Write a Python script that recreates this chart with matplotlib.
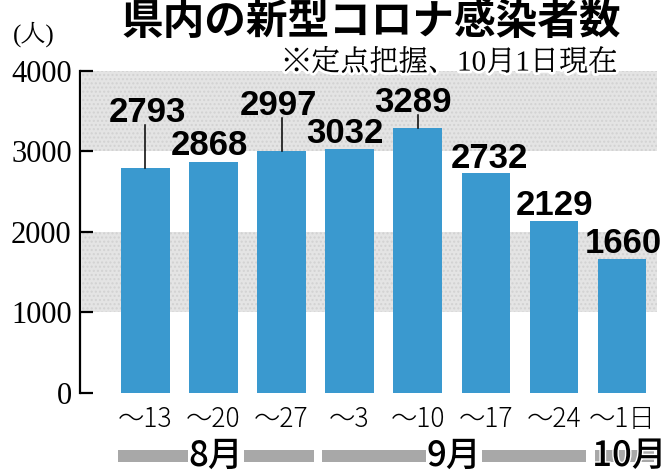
import matplotlib
matplotlib.use("Agg")
import matplotlib.pyplot as plt
import matplotlib.patheffects as pe
from matplotlib import font_manager as fm

# ---- data ----
categories = ["〜13", "〜20", "〜27", "〜3", "〜10", "〜17", "〜24", "〜1日"]
values = [2793, 2868, 2997, 3032, 3289, 2732, 2129, 1660]
months = ["8月", "9月", "10月"]
month_counts = [3, 4, 1]
yticks = [0, 1000, 2000, 3000, 4000]
title = "県内の新型コロナ感染者数"
subtitle = "※定点把握、10月1日現在"
unit = "(人)"

# ---- layout / style (px offsets of value labels, leader flags) ----
label_dx = [1.7, -3.5, -3, -4.5, -5, 4, 0.5, 1.6]
label_dy = [46, 7, 36, 6, 16, 5, 6, 6]
leader = [True, False, True, False, True, False, False, False]

BAR = "#3a99cf"
BAND = "#e4e4e4"
MBAND = "#a8a8a8"
CJK = "Noto Sans CJK JP"
names = {f.name for f in fm.fontManager.ttflist}
MIN = "BIZ UDMincho" if "BIZ UDMincho" in names else CJK
SERIF = ["Liberation Serif", MIN, CJK]

W, H = 670, 476
fig = plt.figure(figsize=(W / 100, H / 100), dpi=100)
ax_left, ax_right = 80, 657
y0_px, y4_px = 392.7, 70.7
ax = fig.add_axes([ax_left / W, 1 - y0_px / H, (ax_right - ax_left) / W, (y0_px - y4_px) / H])

xc0, step = 145.3, 68.1
xmin = (ax_left - xc0) / step
xmax = (ax_right - xc0) / step
ax.set_xlim(xmin, xmax)
ax.set_ylim(0, 4000)
px = 4000 / (y0_px - y4_px)  # data units per pixel

# grey bands
for lo, hi in [(1000, 2000), (3000, 4000)]:
    ax.fill_between([xmin + 2 / step, xmax], lo, hi, color=BAND, lw=0, zorder=0,
                    hatch="....", edgecolor="#d2d2d2")

xs = list(range(len(values)))
ax.bar(xs, values, width=0.712, color=BAR, zorder=2)

for i, v in enumerate(values):
    ax.annotate(f"{v}", xy=(i, v), xytext=(label_dx[i], label_dy[i]),
                textcoords="offset pixels", ha="center", va="baseline",
                fontsize=25, fontweight="bold", family="Liberation Sans",
                color="black", zorder=5, annotation_clip=False)
    if leader[i]:
        ax.plot([i, i], [v, v + (label_dy[i] - 3) * px], color="black", lw=1.1,
                zorder=4, clip_on=False)

# axes styling
for s in ["top", "right", "bottom"]:
    ax.spines[s].set_visible(False)
ax.spines["left"].set_linewidth(1.6)
ax.set_yticks(yticks, [str(t) for t in yticks])
ax.tick_params(axis="y", direction="in", length=9, width=1.6, pad=6,
               labelsize=22, labelfontfamily="Liberation Serif")
ax.set_xticks(xs, categories)
ax.tick_params(axis="x", length=0, pad=9, labelsize=19, labelfontfamily=CJK)
for t in ax.get_xticklabels():
    t.set_fontweight("light")

# month band
ym = -(456 - y0_px) * px
start = 0
for m, c in zip(months, month_counts):
    a = start - 0.4
    b = start + c - 1 + 0.47
    ax.plot([a, b], [ym, ym], color=MBAND, lw=12 * 0.72, solid_capstyle="butt",
            clip_on=False, zorder=1)
    xm = (a + b) / 2
    if c > 1:
        ax.text(xm, ym, m, ha="center", va="center", fontsize=25, fontweight="medium",
                family=[CJK], clip_on=False, zorder=3,
                bbox=dict(facecolor="white", edgecolor="none", pad=0.5))
    else:
        ax.text(xm + 5 / step, ym, m, ha="center", va="center", fontsize=25,
                fontweight="medium", family=[CJK], clip_on=False, zorder=3,
                path_effects=[pe.withStroke(linewidth=2, foreground="white")])
    start += c

# titles
fig.text(371 / W, 1 - 22 / H, title, ha="center", va="center", fontsize=30,
         fontweight="bold", family=[CJK])
fig.text(617 / W, 1 - 63 / H, subtitle, ha="right", va="center", fontsize=21,
         family=SERIF, zorder=6,
         path_effects=[pe.withStroke(linewidth=4, foreground="white")])
fig.text(34 / W, 1 - 34 / H, unit, ha="center", va="center", fontsize=18,
         family=SERIF)

fig.savefig("out.png", dpi=100)
